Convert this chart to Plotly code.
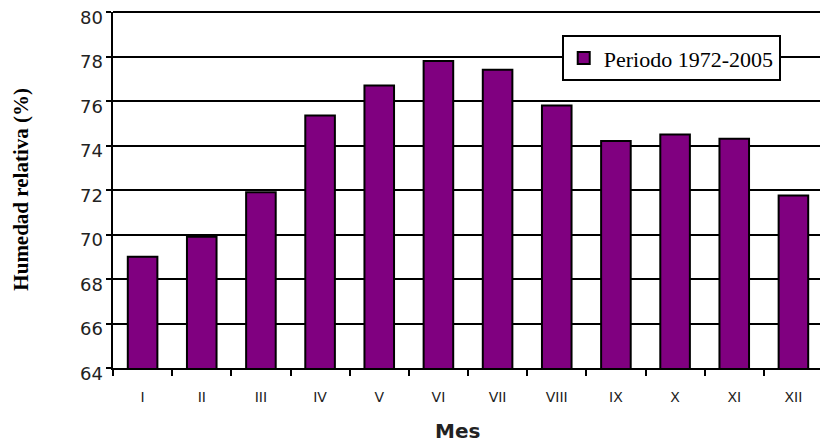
import plotly.graph_objects as go

meses = ["I", "II", "III", "IV", "V", "VI", "VII", "VIII", "IX", "X", "XI", "XII"]
humedad = [69.0, 69.9, 71.9, 75.35, 76.7, 77.8, 77.4, 75.8, 74.2, 74.5, 74.3, 71.75]
serie = "Periodo 1972-2005"
y_ticks = [64, 66, 68, 70, 72, 74, 76, 78, 80]

fig = go.Figure()
fig.add_trace(go.Bar(
    x=meses, y=humedad, name=serie, showlegend=True,
    marker=dict(color="#800080", line=dict(color="black", width=2)),
    width=0.5,
))

# page body has an 8px margin, so the figure is shrunk by that amount to fit the window
fig.update_layout(
    width=820, height=436,
    margin=dict(l=105, r=5, t=4, b=76),
    plot_bgcolor="white", paper_bgcolor="white",
    font=dict(family="DejaVu Sans", color="#222"),
    legend=dict(x=0.632, y=0.935, xanchor="left", yanchor="top",
                bgcolor="white", bordercolor="black", borderwidth=2,
                entrywidth=278, itemwidth=30,
                font=dict(family="Liberation Serif", size=22, color="black")),
)
fig.update_yaxes(range=[y_ticks[0], y_ticks[-1]], tickvals=y_ticks, showgrid=True, gridcolor="black", gridwidth=2,
                 showline=True, linecolor="black", linewidth=2, automargin=False,
                 ticks="outside", ticklen=5, tickwidth=2, tickcolor="black",
                 showticklabels=False, zeroline=False)
fig.update_xaxes(showline=True, linecolor="black", linewidth=2, automargin=False,
                 ticks="outside", ticklen=6, tickwidth=2, tickcolor="black",
                 tickson="boundaries", ticklabelstandoff=15,
                 tickfont=dict(size=14, family="DejaVu Sans"))

# top gridline (plotly drops it at the range edge here); paper refs so it isn't clipped
fig.add_shape(type="line", xref="paper", x0=0, x1=1, yref="paper", y0=1, y1=1,
              line=dict(color="black", width=2), layer="below")

# y tick labels sit slightly below their gridlines, as in the original
for v in y_ticks:
    fig.add_annotation(text=str(v), x=0, xref="paper", xanchor="right", xshift=-8,
                       y=v, yref="y", yanchor="middle", yshift=-5, showarrow=False,
                       font=dict(family="DejaVu Sans", size=18, color="#222"))

fig.add_annotation(text="<b>Humedad relativa (%)</b>", textangle=-90,
                   x=-0.13, xref="paper", xanchor="center", y=0.503, yref="paper", yanchor="middle",
                   showarrow=False, font=dict(family="Liberation Serif", size=21, color="black"))
fig.add_annotation(text="<b>Mes</b>", x=0.485, xref="paper", xanchor="center",
                   y=-0.177, yref="paper", yanchor="middle",
                   showarrow=False, font=dict(family="DejaVu Sans", size=20, color="#222"))

fig.write_html("out.html")
